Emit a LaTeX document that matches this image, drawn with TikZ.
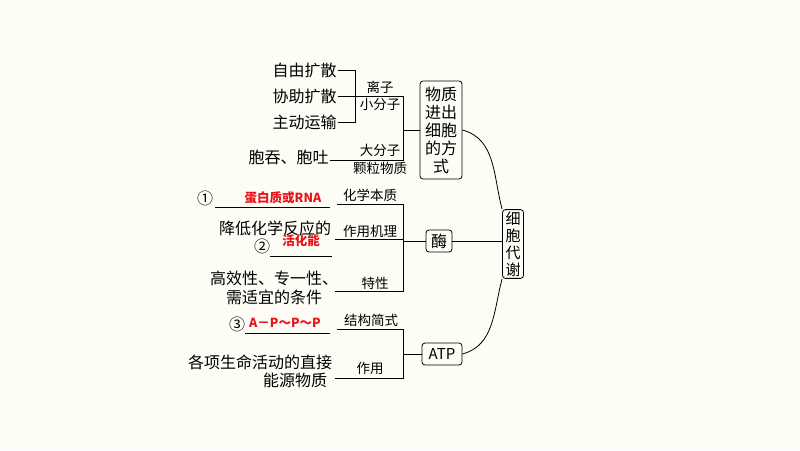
\documentclass[tikz,border=0pt]{standalone}
\usepackage{fontspec}
\setmainfont{Noto Sans CJK SC}
\usetikzlibrary{positioning}
\definecolor{bgc}{HTML}{FDFDF6}
\definecolor{ansred}{HTML}{E8141B}

\begin{document}
\begin{tikzpicture}[x=1pt,y=-1pt,thick,
  main text/.style={font=\fontsize{16}{18}\selectfont,inner sep=1pt},
  lab text/.style={font=\fontsize{13.5}{15}\selectfont,inner sep=1pt},
  ans text/.style={font=\fontsize{12.5}{14}\selectfont\bfseries,text=ansred,inner sep=1pt},
  rbox/.style={draw,rounded corners=3pt,thick,font=\fontsize{16}{18}\selectfont,inner sep=2pt,align=center},
  every path/.style={line width=0.8pt}]
 \fill[bgc] (0,0) rectangle (800,450);
 \useasboundingbox (0,0) rectangle (800,450);

 % boxes
 \node[rbox,minimum width=42pt,minimum height=98pt] (way) at (441,130) {物质\\进出\\细胞\\的方\\式};
 \node[rbox,minimum width=21pt,minimum height=68pt,font=\fontsize{15}{17}\selectfont] (meta) at (513,244) {细\\胞\\代\\谢};
 \node[rbox,minimum width=26pt,minimum height=22pt] (enz) at (439,241) {酶};
 \node[rbox,minimum width=40pt,minimum height=22pt,font=\fontsize{15}{17}\selectfont] (atp) at (442,354) {ATP};

 \draw (way.east) to[out=-15,in=105] (meta.north west);
 \draw (enz.east) -- (meta.west |- enz.east);
 \draw (atp.east) to[out=15,in=-105] (meta.south west);

 % group 1
 \node[main text,anchor=east] (t1) at (338,70) {自由扩散};
 \node[main text,anchor=east] (t2) at (338,96) {协助扩散};
 \node[main text,anchor=east] (t3) at (338,122) {主动运输};
 \node[main text,anchor=east] (t4) at (330,157) {胞吞、胞吐};
 \coordinate (b1) at (403,96);
 \coordinate (b2) at (403,160);
 \coordinate (b3) at (403,130);
 \draw (t1.east) -- (355,70) -- (355,122) -- (t3.east);
 \draw (t2.east) -- (b1) -- (b2) -- (t4.east |- b2);
 \draw (b3) -- (way.west);
 \node[lab text] at (380,87) {离子};
 \node[lab text] at (380,104) {小分子};
 \node[lab text] at (380,150) {大分子};
 \node[lab text] at (380,168) {颗粒物质};

 % group 2
 \coordinate (c1) at (403,204);
 \coordinate (c2) at (403,239);
 \coordinate (c3) at (403,291);
 \draw (337,204) -- (c1) -- (c3) -- (335,291);
 \draw (335,239) -- (c2);
 \draw (c1 |- enz.west) -- (enz.west);
 \node[lab text] at (370,195) {化学本质};
 \node[lab text] at (370,231) {作用机理};
 \node[lab text] at (375,283) {特性};
 \node[main text] (n1) at (205,198) {①};
 \node[ans text] at (283,198) {蛋白质或RNA};
 \draw (215,207) -- (330,207);
 \node[main text] at (275,228) {降低化学反应的};
 \node[main text] (n2) at (262,246) {②};
 \node[ans text] at (301,241) {活化能};
 \draw (270,256) -- (332,256);
 \node[main text] at (274,278) {高效性、专一性、};
 \node[main text] at (274,297) {需适宜的条件};

 % group 3
 \coordinate (d1) at (403,329);
 \coordinate (d2) at (403,378);
 \draw (337,329) -- (d1) -- (d2) -- (335,378);
 \draw (d1 |- atp.west) -- (atp.west);
 \node[lab text] at (371,320) {结构简式};
 \node[lab text] at (370,368) {作用};
 \node[main text] (n3) at (237,324) {③};
 \node[ans text] at (285,323) {A－P～P～P};
 \draw (245,333) -- (330,333);
 \node[main text] at (260,362) {各项生命活动的直接};
 \node[main text] at (295,380) {能源物质};
\end{tikzpicture}
\end{document}
